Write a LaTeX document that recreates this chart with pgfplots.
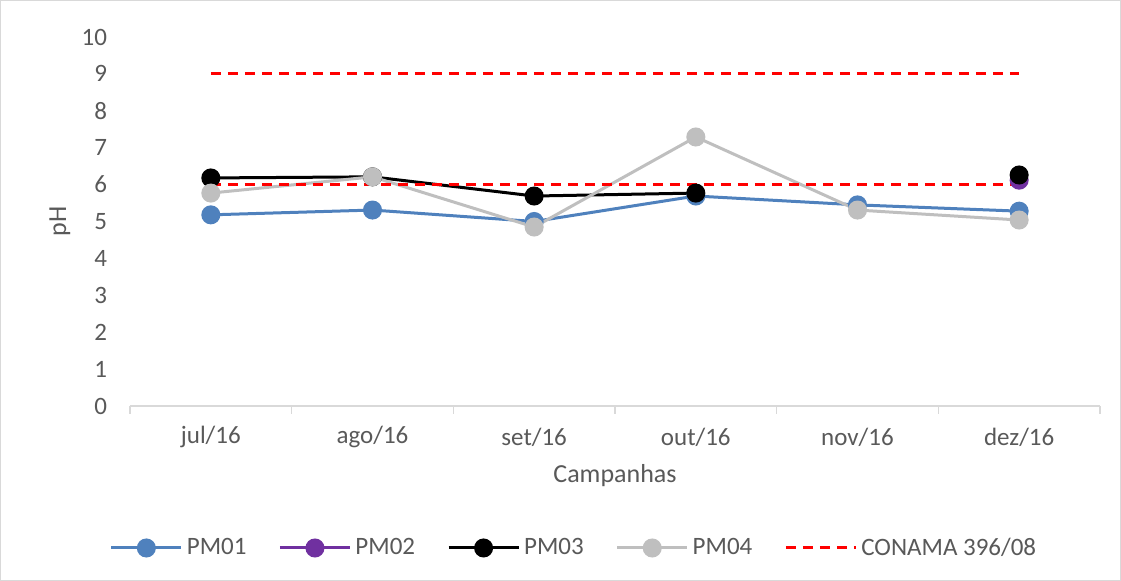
\documentclass[border=0pt]{standalone}
\usepackage{fontspec}
\setmainfont{Carlito}
\usepackage{pgfplots}
\pgfplotsset{compat=1.18}
\definecolor{cblue}{RGB}{79,129,189}
\definecolor{cpurple}{RGB}{112,48,160}
\definecolor{cgray}{RGB}{191,191,191}
\definecolor{txt}{RGB}{89,89,89}
\definecolor{axgray}{RGB}{217,217,217}
\begin{document}
\begin{tikzpicture}
\path[use as bounding box] (-65pt,-87.5pt) rectangle (495.5pt,203pt);
\draw[axgray,line width=0.6pt] (-64.7pt,-87.2pt) rectangle (495.2pt,202.7pt);
\begin{axis}[
  at={(0,0)}, anchor=south west,
  scale only axis, width=485pt, height=184.5pt,
  xmin=-0.5, xmax=5.5, ymin=0, ymax=10,
  ytick={0,1,...,10},
  xtick={0,1,2,3,4,5},
  xticklabels={jul/16,ago/16,set/16,out/16,nov/16,dez/16},
  minor xtick={-0.5,0.5,1.5,2.5,3.5,4.5,5.5},
  axis x line*=bottom, axis y line*=left,
  y axis line style={draw=none},
  x axis line style={draw=axgray, line width=0.8pt, -},
  xtick align=outside,
  major tick length=0pt, minor tick length=4pt,
  minor tick style={draw=axgray, line width=0.8pt},
  ytick style={draw=none},
  tick label style={font=\fontsize{12.5}{14}\selectfont, text=txt},
  /pgf/number format/assume math mode=true,
  xticklabel style={anchor=center, yshift=-15.5pt},
  yticklabel style={xshift=-8pt},
  xlabel={Campanhas}, ylabel={pH},
  label style={font=\fontsize{13}{15}\selectfont, text=txt},
  xlabel style={at={(axis description cs:0.5,0)}, anchor=center, yshift=-35pt},
  ylabel style={at={(axis description cs:-0.0722,0.5)}, anchor=center},
  unbounded coords=jump,
  every axis plot/.append style={line width=1.5pt},
  mark size=4pt,
  legend columns=5,
  legend style={at={(0.5,0)}, anchor=center, yshift=-71pt, xshift=-20pt, draw=none,
    font=\fontsize{12.5}{14}\selectfont, text=txt,
    /tikz/every even column/.append style={column sep=14pt}},
  legend image code/.code={\draw[mark repeat=2,mark phase=2] plot coordinates {(0pt,0pt) (17.5pt,0pt) (35pt,0pt)};},
]
\addplot[cblue, mark=*, mark options={fill=cblue, draw=cblue}] coordinates {(0,5.18) (1,5.31) (2,5.0) (3,5.69) (4,5.45) (5,5.28)};
\addlegendentry{PM01}
\addplot[cpurple, mark=*, mark options={fill=cpurple, draw=cpurple}] coordinates {(0,nan) (1,nan) (2,nan) (3,nan) (4,nan) (5,6.12)};
\addlegendentry{PM02}
\addplot[black, mark=*, mark options={fill=black, draw=black}] coordinates {(0,6.18) (1,6.21) (2,5.69) (3,5.77) (4,nan) (5,6.26)};
\addlegendentry{PM03}
\addplot[cgray, mark=*, mark options={fill=cgray, draw=cgray}] coordinates {(0,5.77) (1,6.21) (2,4.85) (3,7.29) (4,5.31) (5,5.04)};
\addlegendentry{PM04}
\addplot[red, dash pattern=on 5pt off 3.5pt] coordinates {(0,6) (1,6) (2,6) (3,6) (4,6) (5,6)};
\addlegendentry{CONAMA 396/08}
\addplot[red, dash pattern=on 5pt off 3.5pt, forget plot] coordinates {(0,9) (1,9) (2,9) (3,9) (4,9) (5,9)};
\end{axis}
\end{tikzpicture}
\end{document}
